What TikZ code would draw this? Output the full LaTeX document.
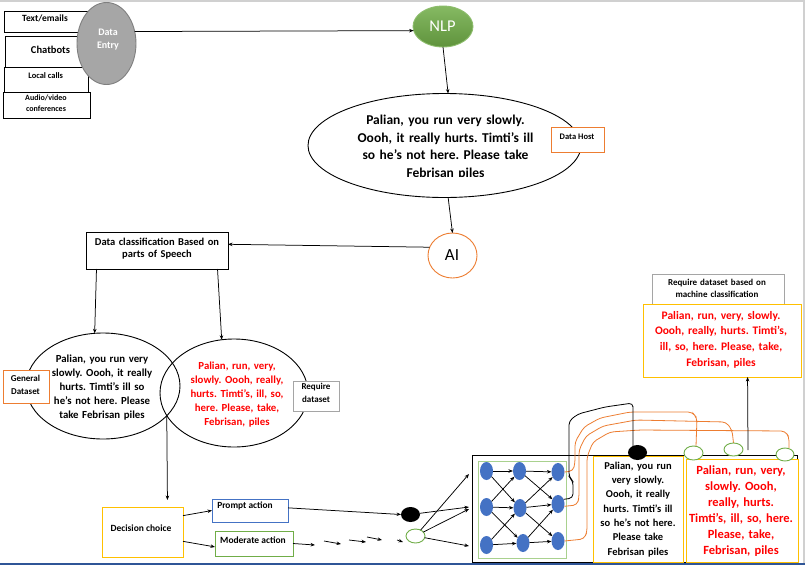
\documentclass[tikz,border=0pt]{standalone}
\usepackage{fontspec}
\setmainfont{Carlito}
\usetikzlibrary{shapes.geometric,arrows.meta,calc}
\definecolor{cOrange}{HTML}{ED7D31}
\definecolor{cGold}{HTML}{FFC000}
\definecolor{cBlue}{HTML}{4472C4}
\definecolor{cGreen}{HTML}{70AD47}
\definecolor{cLGreen}{HTML}{A9D18E}
\definecolor{cGray}{HTML}{A5A5A5}
\definecolor{cRed}{HTML}{FF0000}
\definecolor{cNavy}{HTML}{2F5597}
\definecolor{cEdge}{HTML}{D0D0D0}
\definecolor{cEntry}{HTML}{A6A6A6}
\definecolor{cEntryB}{HTML}{7F7F7F}
\newcommand\fsz[2]{\fontsize{#1}{#2}\selectfont}
\frenchspacing
\begin{document}
\begin{tikzpicture}[x=1pt,y=-1pt,
  >={Stealth[length=4.5pt,width=3.5pt]},
  every node/.style={inner sep=0pt, outer sep=0pt},
  box/.style={draw, line width=0.9pt, fill=white, anchor=north west},
  ell/.style={ellipse, draw, line width=0.9pt},
  ml/.style={text width=220pt, align=center, anchor=base},
  con/.style={->, line width=0.75pt},
  wireO/.style={draw=cOrange, line width=0.8pt, rounded corners=4pt},
  wireK/.style={draw=black, line width=0.8pt, rounded corners=4pt},
  nn/.style={ellipse, fill=cBlue, minimum width=13, minimum height=18},
]
\useasboundingbox (0,0) rectangle (805,565);
\fill[white] (0,0) rectangle (805,565);
\draw[line width=1.5pt, cEdge] (0,0.75) -- (805,0.75);
\draw[line width=1.5pt, cEdge] (804,0) -- (804,565);
\draw[line width=2pt, cNavy] (0,563.5) -- (805,563.5);

% ---- top left sources
\node[box, minimum width=84, minimum height=21] (te) at (4,11) {};
\node[anchor=base, font=\bfseries\fsz{9.5}{11}] at (45,21.3) {Text/emails};
\node[box, minimum width=84, minimum height=32] (cb) at (5,36) {};
\node[anchor=base, font=\bfseries\fsz{10.5}{12}] at (50.5,53.3) {Chatbots};
\node[box, minimum width=84, minimum height=25] (lc) at (4,67) {};
\node[anchor=base, font=\bfseries\fsz{8.4}{10}] at (45.7,78.3) {Local calls};
\node[box, minimum width=87, minimum height=26] (av) at (3,92) {};
\node[ml, font=\bfseries\fsz{8}{11.5}] at (46,100) {Audio/video\\conferences};

% ---- data entry
\node[ell, draw=cEntryB, fill=cEntry, minimum width=59, minimum height=82] (de) at (106.5,43.5) {};
\node[ml, font=\bfseries\fsz{10}{12.8}, text=white] at (108,35.5) {Data\\Entry};

% ---- NLP
\node[ell, draw=cGreen!80!white, top color=cGreen!85!white, bottom color=cGreen!85!black, minimum width=60, minimum height=41] (nlp) at (443,26.5) {};
\node[anchor=base, font=\fsz{16.5}{18}, text=white] at (442.5,31.7) {NLP};

% ---- data host ellipse
\node[ell, minimum width=273, minimum height=104] (host) at (444.5,145.5) {};
\begin{scope}
\clip (300,90) rectangle (590,176);
\node[ml, font=\bfseries\fsz{13.5}{17.7}] at (445.5,124.5) {Palian, you run very slowly.\\Oooh, it really hurts. Timti’s ill\\so he’s not here. Please take\\Febrisan piles};
\end{scope}
\node[box, draw=cOrange, minimum width=53, minimum height=25] (dh) at (551,127) {};
\node[anchor=base, font=\bfseries\fsz{8.5}{10}] at (577,139.3) {Data Host};

% ---- AI
\node[ell, draw=cOrange, fill=white, minimum width=49, minimum height=45] (ai) at (452.5,255.5) {};
\node[anchor=base, font=\fsz{17}{19}] at (452,260) {AI};

% ---- classification
\node[box, minimum width=142, minimum height=37] (cls) at (86,232) {};
\node[ml, font=\bfseries\fsz{10.5}{12}] at (157,245) {Data classification Based on\\parts of Speech};

% ---- two ellipses
\node[ell, minimum width=154, minimum height=106] (gen) at (103,386) {};
\node[ell, minimum width=148, minimum height=108] (req) at (234,393) {};
\node[ml, font=\bfseries\fsz{10.8}{13.9}] at (102,362.7) {Palian, you run very\\slowly. Oooh, it really\\hurts. Timti’s ill so\\he’s not here. Please\\take Febrisan piles};
\node[ml, font=\bfseries\fsz{10.8}{14}, text=cRed] at (237,369) {Palian, run, very,\\slowly. Oooh, really,\\hurts. Timti’s, ill, so,\\here. Please, take,\\Febrisan, piles};
\node[box, draw=cOrange, minimum width=46, minimum height=33] (gd) at (3,370) {};
\node[ml, font=\bfseries\fsz{9}{12.7}] at (25.5,381.7) {General\\Dataset};
\node[box, draw=cGray, minimum width=46, minimum height=30] (rd) at (293,381) {};
\node[ml, font=\bfseries\fsz{9}{13}] at (316,389.5) {Require\\dataset};

% ---- decision
\node[box, draw=cGold, minimum width=81, minimum height=50] (dec) at (102,507) {};
\node[anchor=base, font=\bfseries\fsz{9.5}{11}] at (141,531) {Decision choice};
\node[box, draw=cBlue, minimum width=76, minimum height=23] (pa) at (212,499) {};
\node[anchor=base, font=\bfseries\fsz{9.4}{11}] at (245,508) {Prompt action};
\node[box, draw=cGreen, minimum width=78, minimum height=25] (ma) at (215,531) {};
\node[anchor=base, font=\bfseries\fsz{9.5}{11}] at (253,543.3) {Moderate action};

\node[ellipse, fill=black, minimum width=19, minimum height=15] (bk1) at (410.5,514.5) {};
\node[ell, draw=cGreen, fill=white, minimum width=19, minimum height=14] (gn1) at (415.5,536) {};

% ---- network block
\node[box, minimum width=325, minimum height=107] (blk) at (472,455) {};
\node[box, draw=cLGreen, line width=1pt, minimum width=88, minimum height=97] (nnb) at (478,461) {};
\node[nn] (n11) at (486.5,471) {};
\node[nn] (n12) at (486.5,507) {};
\node[nn] (n13) at (486.5,545) {};
\node[nn] (n21) at (519.5,471) {};
\node[nn] (n22) at (520,508) {};
\node[nn] (n23) at (523,543) {};
\node[nn] (n31) at (558,472) {};
\node[nn] (n32) at (558,504) {};
\node[nn] (n33) at (558,541) {};
\foreach \a/\b in {1/1,1/2,2/1,2/2,2/3,3/2,3/3}{
  \draw[con] (n1\a) -- (n2\b);
  \draw[con] (n2\a) -- (n3\b);
}
\node[box, draw=cGold, minimum width=90, minimum height=106] (yb1) at (593,456) {};
\node[ml, font=\bfseries\fsz{10.5}{14.3}] at (638,469.3) {Palian, you run\\very slowly.\\Oooh, it really\\hurts. Timti’s ill\\so he’s not here.\\Please take\\Febrisan piles};
\node[box, draw=cGold, minimum width=112, minimum height=103] (yb2) at (686,459) {};
\node[ml, font=\bfseries\fsz{12.5}{16.1}, text=cRed] at (741,474.3) {Palian, run, very,\\slowly. Oooh,\\really, hurts.\\Timti’s, ill, so, here.\\Please, take,\\Febrisan, piles};

% wires
\draw[wireO] (n31.east) -- (573,471) -- (575,463) -- (575,442) -- (584,427) -- (600,418) -- (630,412) -- (692,412) -- (697,418) -- (696,446);
\draw[wireO] (n32.-20) -- (577,505) -- (579,498) -- (579,450) -- (586,436) -- (603,426) -- (636,420) -- (726,422) -- (732,430) -- (733.5,443);
\draw[wireO] (n33.east) -- (584,539) -- (587,532) -- (587,457) -- (593,442) -- (610,432) -- (640,430) -- (785,431) -- (789,437) -- (789,448);
\draw[wireK] (n32.40) -- (573,498) -- (573,481) -- (569,477) -- (569,421) -- (578,414) -- (605,407) -- (633,403) -- (633,410) -- (633,447);

\node[ellipse, fill=black, minimum width=19, minimum height=15] (bk2) at (637.5,452.5) {};
\node[ell, draw=cGreen, fill=white, minimum width=19, minimum height=14] (g1) at (693.5,453) {};
\node[ell, draw=cGreen, fill=white, minimum width=19, minimum height=13] (g2) at (733.5,449.5) {};
\node[ell, draw=cGreen, fill=white, minimum width=18, minimum height=13] (g3) at (785,454.5) {};

% ---- top right
\node[box, draw=cGray, minimum width=132, minimum height=30] (rqg) at (652,274) {};
\node[ml, font=\bfseries\fsz{9}{12}] at (717,285) {Require dataset based on\\machine classification};
\node[box, draw=cGold, minimum width=158, minimum height=73] (rqy) at (643,304) {};
\node[ml, font=\bfseries\fsz{11.5}{15.6}, text=cRed] at (721,319.3) {Palian, run, very, slowly.\\Oooh, really, hurts. Timti’s,\\ill, so, here. Please, take,\\Febrisan, piles};

% ---- coordinates for free ends
\coordinate (in1) at (469,474);
\coordinate (in2) at (469,507);
\coordinate (in3) at (469,509);
\coordinate (in4) at (469,546);
\coordinate (upst) at (748,450);
\coordinate (d1) at (315,545);
\coordinate (d2a) at (324,541);
\coordinate (d2b) at (341,544);
\coordinate (d3a) at (349,540);
\coordinate (d3b) at (366,542);
\coordinate (d4a) at (367,537);
\coordinate (d4b) at (382,540);
\coordinate (d5a) at (397,540);
\coordinate (d5b) at (403,542);

% ---- connectors
\draw[con] (de.23) -- (nlp.188);
\draw[con] (nlp.south) -- (host.86);
\draw[con] (host.-86) -- (ai.north);
\draw[con] (ai.160) -- (cls.5);
\draw[con] (cls.197) -- (gen.99);
\draw[con] (cls.-17.7) -- (req.103);
\draw[con, shorten >=7pt] (gen.-25) -- (dec.45.6);
\draw[con] (dec.22.8) -- (pa.west);
\draw[con] (dec.-13.9) -- (ma.185);
\draw[con] (pa.4) -- (bk1.west);
\draw[con] (ma.east) -- (d1);
\draw[con] (d2a) -- (d2b);
\draw[con] (d3a) -- (d3b);
\draw[con] (d4a) -- (d4b);
\draw[con] (d5a) -- (d5b);
\draw[con] (bk1) -- (in2);
\draw[con] (gn1) -- (in1);
\draw[con] (gn1) -- (in3);
\draw[con] (gn1) -- (in4);
\draw[con] (upst) -- (rqy.-55.6);
\end{tikzpicture}
\end{document}
